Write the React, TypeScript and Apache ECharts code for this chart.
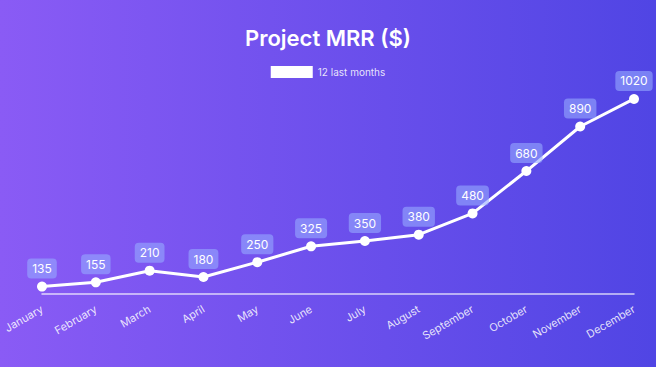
import React, { useEffect, useRef } from "react";
import * as echarts from "echarts";

const months = ["January", "February", "March", "April", "May", "June", "July", "August", "September", "October", "November", "December"];
const mrr = [135, 155, 210, 180, 250, 325, 350, 380, 480, 680, 890, 1020];
const seriesName = "12 last months";
const titleText = "Project MRR ($)";

export default function App() {
  const ref = useRef<HTMLDivElement>(null);
  useEffect(() => {
    document.body.style.margin = "0";
    const chart = echarts.init(ref.current!, undefined, { renderer: "svg" });
    chart.setOption({
      animation: false,
      backgroundColor: new echarts.graphic.LinearGradient(0, 0, 1, 0, [
        { offset: 0, color: "#8a5bf5" },
        { offset: 1, color: "#5045e4" },
      ]),
      title: {
        text: titleText,
        left: "center",
        top: 22,
        textStyle: { color: "#ffffff", fontSize: 22, fontWeight: 600, fontFamily: "Inter" },
      },
      legend: {
        top: 61,
        left: "center",
        icon: "rect",
        itemWidth: 42,
        itemHeight: 12,
        itemGap: 6,
        data: [{ name: seriesName, icon: "rect", itemStyle: { color: "#ffffff" } }],
        textStyle: { color: "rgba(255,255,255,0.85)", fontSize: 10, fontFamily: "Inter" },
      },
      grid: { left: 42, right: 22, top: 82, bottom: 73, containLabel: false, outerBoundsMode: "none" },
      xAxis: {
        type: "category",
        data: months,
        boundaryGap: false,
        axisLine: { lineStyle: { color: "rgba(255,255,255,0.75)", width: 1.5 } },
        axisTick: { show: false },
        axisLabel: {
          rotate: 30,
          color: "rgba(255,255,255,0.85)",
          fontSize: 11,
          fontFamily: "Inter",
          margin: 14,
          interval: 0,
        },
      },
      yAxis: {
        type: "value",
        min: 100,
        max: 1100,
        show: false,
        splitLine: { show: false },
      },
      series: [
        {
          name: seriesName,
          type: "line",
          data: mrr,
          symbol: "circle",
          symbolSize: 10,
          lineStyle: { color: "#ffffff", width: 3 },
          itemStyle: { color: "#ffffff" },
          label: {
            show: true,
            position: "top",
            distance: 3,
            color: "#ffffff",
            fontSize: 12,
            fontFamily: "Inter",
            backgroundColor: "rgba(150,170,255,0.6)",
            borderRadius: 4,
            padding: [4, 5, 4, 5],
          },
        },
      ],
    });
    return () => chart.dispose();
  }, []);
  return <div ref={ref} style={{ width: 656, height: 367 }} />;
}
